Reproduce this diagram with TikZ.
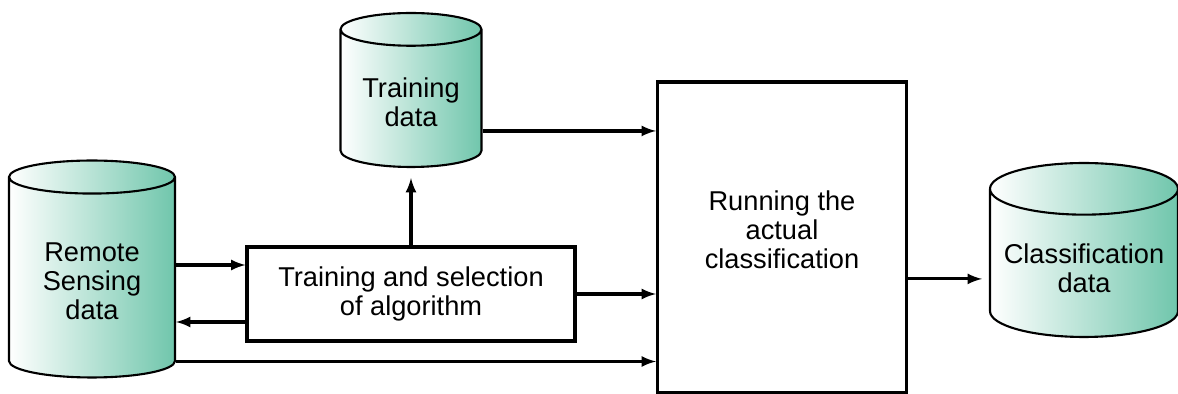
\documentclass[tikz,border=0pt]{standalone}
\usepackage{fontspec}
\setmainfont{Liberation Sans}
\usetikzlibrary{shapes.geometric}
\definecolor{dbteal}{RGB}{112,198,172}
\tikzset{
    db/.style={cylinder, shape border rotate=90, aspect=0.3, draw, line width=1.2pt, anchor=shape center,
        left color=white, right color=dbteal, align=center, font=\fontsize{15.5}{16.5}\selectfont},
    box/.style={draw, line width=1.8pt, align=center, font=\fontsize{15.5}{16.5}\selectfont},
    arr/.style={line width=1.8pt, -latex}
}
\begin{document}
\begin{tikzpicture}[x=0.02cm, y=-0.02cm]
    \useasboundingbox (0, 0) rectangle (1178, 394);
    \node[db, minimum width=3.32cm, minimum height=4.34cm] (rsd) at (92, 269) {Remote\\Sensing\\data};
    \node[db, minimum width=2.82cm, minimum height=3.08cm] (td) at (411, 90) {Training\\data};
    \node[db, minimum width=3.76cm, minimum height=3.48cm] (cls) at (1084, 250) {Classification\\data};
    \node[box, minimum width=6.56cm, minimum height=1.88cm] (sel) at (411, 294) {Training and selection\\of algorithm};
    \node[box, minimum width=4.98cm, minimum height=6.22cm, text depth=0.3cm] (run) at (782, 237.5) {Running the\\actual\\classification};
    \path (sel.west) ++(0, -29) coordinate (s1);
    \path (sel.west) ++(0, 28) coordinate (s2);
    \path (run.west) ++(0, 124) coordinate (r3);
    \path (td.east) ++(0, 29) coordinate (t1);
    \path (cls.west) ++(0, 11) coordinate (c1);
    \draw[arr] (rsd.east |- s1) -- (s1);
    \draw[arr] (s2) -- (rsd.east |- s2);
    \draw[arr] (rsd.east |- r3) -- (r3);
    \draw[arr] (sel.east) -- (sel.east -| run.west);
    \draw[arr, shorten >=0.2cm] (sel.north) -- (td.south);
    \draw[arr] (t1) -- (t1 -| run.west);
    \draw[arr, shorten >=0.14cm] (run.east |- c1) -- (c1);
\end{tikzpicture}
\end{document}
